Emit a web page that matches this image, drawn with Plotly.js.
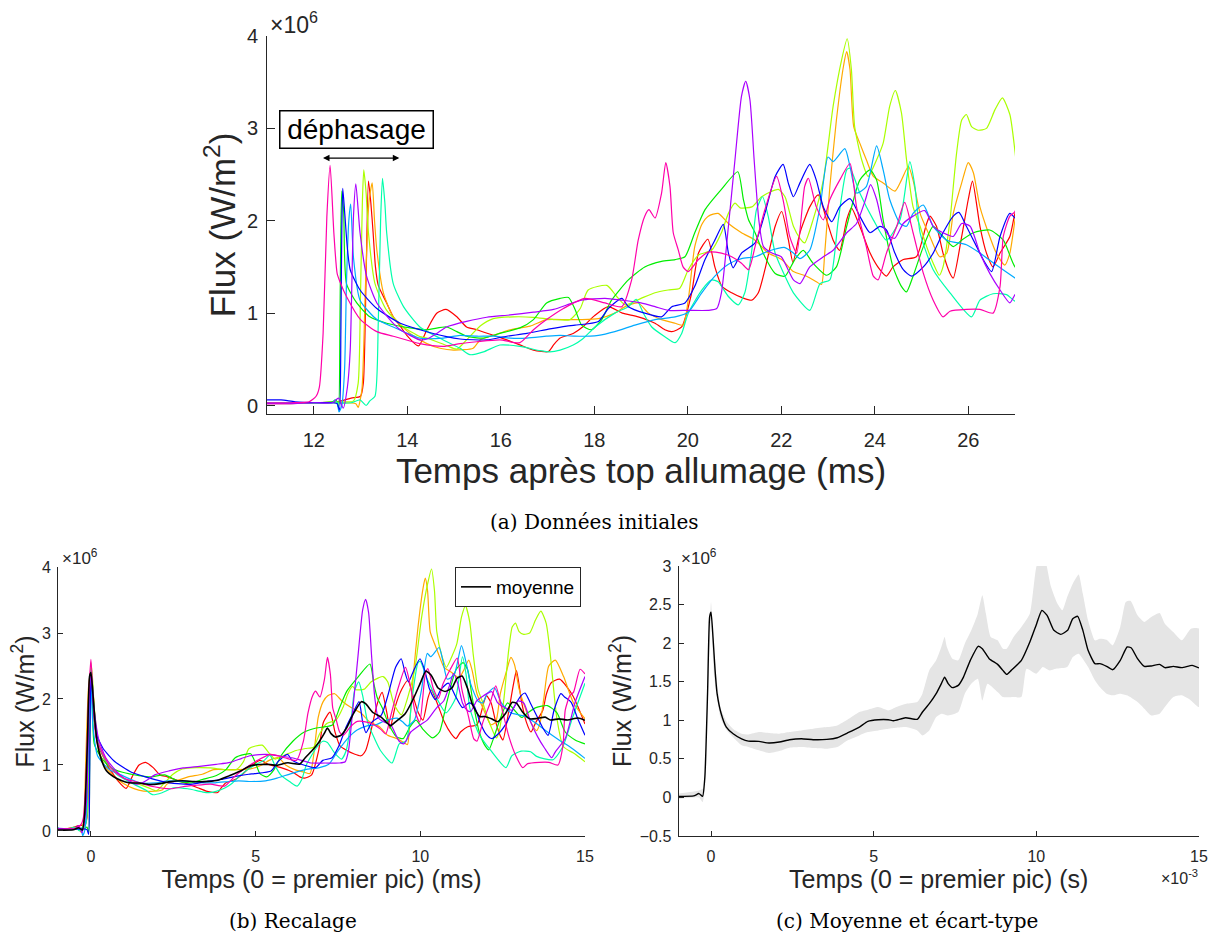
<!DOCTYPE html>
<html>
<head>
<meta charset="utf-8">
<script src="https://cdn.plot.ly/plotly-3.0.1.min.js"></script>
<style>html,body{margin:0;padding:0;background:#fff;}#chart{width:1216px;height:935px;}</style>
</head>
<body>
<div id="chart"></div>
<script>
// ---------- Data (flux in 10^6 W/m2, time in ms after ignition) ----------
const tRouge = [11.0,11.5,12.0,12.5,12.8,13.0,13.06,13.12,13.17,13.22,13.27,13.32,13.38,13.56,13.7,13.85,13.99,14.24,14.42,14.63,14.83,15.06,15.27,15.49,15.84,16.13,16.41,16.7,17.02,17.13,17.27,17.55,17.75,18.0,18.3,18.6,18.94,19.3,19.51,19.66,19.87,20.08,20.23,20.43,20.58,20.73,20.94,21.15,21.37,21.51,21.65,21.87,22.01,22.15,22.25,22.4,22.61,22.79,22.97,23.11,23.25,23.4,23.5,23.68,23.9,24.11,24.25,24.39,24.61,24.89,25.11,25.18,25.32,25.46,25.61,25.68,25.86,26.0,26.09,26.25,26.39,26.53,26.68,26.89,27.0,27.15,27.4,27.8,28.17];
const fRouge = [0.02,0.02,0.03,0.04,0.08,0.1,0.24,1.4,2.43,2.2,1.87,1.5,1.3,1.11,0.96,0.86,0.76,0.645,0.82,0.999,1.04,0.96,0.85,0.82,0.76,0.71,0.656,0.60,0.584,0.656,0.73,0.78,0.85,0.97,1.07,1.0,0.96,0.89,0.82,0.80,0.85,1.21,1.65,1.80,1.50,1.29,1.22,1.17,1.14,1.22,1.47,1.94,2.10,1.8,1.55,1.87,2.15,2.28,2.01,1.79,1.68,2.01,2.14,1.94,1.65,1.47,1.40,1.50,1.58,1.61,1.97,2.05,1.94,1.65,1.43,1.38,1.83,2.23,2.43,1.94,1.65,1.50,1.65,1.83,2.08,2.25,2.3,2.05,1.62];

const tOrange = [11.0,11.5,12.0,12.5,12.9,12.95,13.03,13.1,13.18,13.25,13.3,13.35,13.49,13.7,14.06,14.42,14.7,14.99,15.41,15.56,15.84,16.2,16.63,16.98,17.41,17.7,18.09,18.44,18.66,18.94,19.16,19.44,19.73,19.9,20.01,20.15,20.3,20.44,20.65,20.87,21.15,21.44,21.72,22.01,22.26,22.54,22.75,22.86,22.93,23.04,23.18,23.33,23.4,23.47,23.55,23.68,23.82,23.97,24.18,24.43,24.57,24.72,24.82,24.97,25.18,25.39,25.54,25.68,25.86,26.0,26.11,26.25,26.43,26.6,26.78,26.89,27.0,27.15,27.35,27.6,27.9,28.25];
const fOrange = [0.03,0.03,0.03,0.03,0.02,-0.02,0.17,1.2,2.2,2.41,2.0,1.68,1.22,0.96,0.78,0.67,0.62,0.60,0.62,0.71,0.76,0.82,0.86,0.93,0.93,0.93,0.94,1.0,1.07,1.11,1.0,0.93,0.89,0.87,1.14,1.72,1.96,2.05,2.08,1.97,1.87,1.79,1.65,1.58,1.45,1.40,1.34,1.31,1.65,2.37,3.09,3.67,3.83,3.64,3.02,2.84,2.66,2.48,2.41,2.32,2.44,2.59,2.44,2.08,1.83,1.61,1.65,2.08,2.41,2.63,2.52,2.15,1.87,1.65,1.52,1.65,2.01,2.5,2.59,2.34,1.94,1.7];

const tJauneVert = [11.0,11.5,12.0,12.5,12.85,12.95,13.0,13.04,13.07,13.12,13.17,13.31,13.56,13.92,14.27,14.42,14.84,15.06,15.27,15.56,15.84,16.27,16.7,17.13,17.48,17.7,17.87,18.27,18.48,18.66,19.0,19.3,19.58,19.83,20.01,20.23,20.51,20.72,20.87,21.01,21.12,21.37,21.58,21.8,21.94,22.08,22.26,22.4,22.5,22.68,22.9,23.11,23.29,23.41,23.5,23.57,23.72,23.86,24.04,24.18,24.32,24.44,24.57,24.68,24.82,24.97,25.11,25.25,25.38,25.46,25.61,25.75,25.86,25.96,26.07,26.21,26.39,26.57,26.73,26.89,27.0,27.21,27.41,27.72,28.07];
const fJauneVert = [0.03,0.03,0.03,0.04,0.05,0.24,1.2,2.2,2.55,2.3,1.87,1.32,1.03,0.85,0.745,0.73,0.65,0.61,0.71,0.86,0.94,0.96,0.955,0.93,0.93,1.05,1.25,1.30,1.18,1.09,1.16,1.22,1.25,1.27,1.47,1.63,1.68,1.87,2.08,2.19,2.14,2.15,2.26,2.32,2.34,2.26,1.94,1.81,1.76,2.01,2.44,3.24,3.74,3.97,3.64,3.02,2.66,2.48,2.66,2.84,3.24,3.41,3.17,2.66,2.15,1.94,1.72,1.54,1.41,1.50,2.01,2.73,3.09,3.15,3.02,2.98,3.0,3.2,3.33,3.15,2.75,1.73,1.28,1.18,1.05];

const tVert = [11.0,11.5,12.0,12.4,12.48,12.53,12.56,12.58,12.6,12.64,12.7,12.92,13.2,13.56,14.06,14.42,14.84,15.06,15.27,15.63,15.98,16.41,16.7,16.98,17.27,17.45,17.59,17.73,17.94,18.16,18.37,18.73,19.08,19.44,19.73,19.94,20.15,20.37,20.72,21.07,21.19,21.3,21.44,21.65,21.87,22.08,22.29,22.47,22.68,22.97,23.18,23.4,23.68,23.9,24.04,24.18,24.39,24.57,24.68,24.82,25.04,25.25,25.46,25.68,25.86,26.11,26.46,26.75,27.0,27.3,27.6];
const fVert = [0.03,0.03,0.03,0.04,0.06,-0.02,0.9,1.9,2.32,2.1,1.32,1.11,0.96,0.89,0.84,0.82,0.85,0.80,0.75,0.73,0.78,0.84,0.93,1.11,1.16,1.17,1.04,0.87,0.82,0.93,1.14,1.36,1.50,1.56,1.58,1.61,1.87,2.12,2.34,2.53,2.23,2.01,1.87,1.61,1.43,1.40,1.58,1.68,1.54,1.41,1.50,1.94,2.44,2.55,2.44,2.01,1.50,1.29,1.23,1.40,1.72,1.94,1.83,1.72,1.79,1.87,1.90,1.79,1.50,1.38,1.32];

const tTurquoise = [11.0,11.5,12.0,12.4,12.45,12.5,12.8,12.99,13.12,13.2,13.31,13.38,13.43,13.47,13.52,13.56,13.7,13.92,14.27,14.77,15.13,15.34,15.63,15.98,16.41,16.84,17.05,17.27,17.55,17.75,18.02,18.44,18.73,18.9,19.05,19.23,19.51,19.73,19.87,20.01,20.3,20.51,20.65,20.87,21.08,21.22,21.37,21.47,21.6,21.72,21.87,22.08,22.26,22.61,22.83,23.04,23.22,23.4,23.47,23.68,23.97,24.25,24.54,24.75,24.86,24.97,25.25,25.61,26.07,26.25,26.53,26.82,27.0,27.5,27.8,28.1,28.47];
const fTurquoise = [0.03,0.03,0.03,0.03,0.06,0.03,0.03,0.06,0.0,0.05,0.1,0.9,2.0,2.46,2.2,1.87,1.32,1.07,0.85,0.71,0.62,0.55,0.58,0.655,0.64,0.594,0.58,0.60,0.655,0.72,0.85,1.0,1.07,1.15,1.0,0.85,0.745,0.68,0.78,1.0,1.25,1.36,1.34,1.18,1.09,1.22,1.68,2.12,2.26,2.05,1.65,1.40,1.22,1.03,1.32,1.36,2.01,2.55,2.57,2.30,2.01,1.79,2.01,2.64,2.37,1.87,1.47,1.22,0.96,1.14,1.21,1.20,1.13,1.08,1.28,1.73,2.24];

const tAzur = [11.0,11.5,12.0,12.4,12.5,12.54,12.6,12.66,12.7,12.75,12.79,12.85,12.99,13.35,13.7,14.27,14.77,15.13,15.49,15.84,16.2,16.56,16.98,17.27,17.59,18.09,18.44,18.87,19.3,19.73,20.01,20.3,20.58,20.87,21.15,21.44,21.72,22.08,22.26,22.4,22.61,22.83,23.0,23.11,23.36,23.47,23.61,23.82,24.04,24.18,24.32,24.54,24.68,24.82,25.04,25.25,25.54,25.96,26.25,26.6,27.0,27.4,27.79];
const fAzur = [0.03,0.03,0.03,0.03,0.02,-0.07,0.0,0.4,1.33,2.0,2.18,1.6,1.14,0.93,0.85,0.73,0.73,0.76,0.75,0.75,0.73,0.73,0.75,0.76,0.75,0.76,0.80,0.87,0.93,0.96,1.01,1.22,1.40,1.53,1.59,1.61,1.67,1.71,1.65,1.59,1.68,2.15,2.69,2.64,2.78,2.59,2.30,2.37,2.81,2.55,2.23,1.97,1.94,2.08,2.17,1.94,1.79,1.74,1.65,1.52,1.38,1.25,1.1];

const tBleu = [11.0,11.3,11.6,12.0,12.4,12.5,12.55,12.58,12.6,12.62,12.66,12.72,12.78,12.99,13.35,13.85,14.27,14.84,15.13,15.7,16.13,16.56,17.05,17.41,17.59,18.09,18.3,18.59,18.73,19.08,19.44,19.66,19.94,20.15,20.37,20.58,20.76,20.87,20.97,21.15,21.44,21.65,21.87,22.04,22.15,22.26,22.4,22.61,22.75,22.9,23.08,23.25,23.47,23.68,23.9,24.11,24.25,24.43,24.61,24.79,25.04,25.25,25.46,25.68,25.8,25.96,26.18,26.32,26.5,26.68,26.89,27.0,27.2,27.4,27.62];
const fBleu = [0.06,0.06,0.04,0.03,0.03,0.02,-0.05,0.8,1.9,2.35,2.1,1.7,1.47,1.25,1.05,0.89,0.82,0.745,0.72,0.71,0.75,0.78,0.83,0.86,0.87,0.91,1.05,1.16,1.07,1.00,0.96,1.07,1.11,1.29,1.58,1.79,1.96,1.65,1.49,1.65,1.76,2.08,2.48,2.61,2.41,2.26,2.41,2.61,2.44,2.15,1.99,2.15,2.24,2.05,1.87,1.94,1.90,1.65,1.47,1.40,1.50,1.65,1.87,2.05,2.09,1.94,1.72,1.58,1.45,1.83,2.08,2.03,1.95,1.7,1.45];

const tViolet = [11.0,11.5,12.0,12.4,12.53,12.63,12.72,12.78,12.85,12.9,12.99,13.13,13.35,13.7,13.85,14.27,14.42,14.63,14.84,15.27,15.7,16.2,16.7,17.13,17.48,17.73,18.23,18.59,19.0,19.3,19.58,20.01,20.44,20.62,20.72,20.87,21.01,21.15,21.24,21.33,21.42,21.52,21.62,21.8,22.0,22.26,22.4,22.61,22.9,23.11,23.4,23.61,23.79,23.91,24.04,24.18,24.32,24.43,24.61,24.82,25.07,25.25,25.46,25.68,25.86,26.04,26.25,26.46,26.68,26.89,27.0,27.3,27.6,27.9];
const fViolet = [0.02,0.02,0.03,0.03,0.08,-0.03,0.2,0.6,2.05,2.40,1.87,1.40,1.11,0.89,0.82,0.71,0.72,0.78,0.85,0.91,0.955,0.98,1.01,1.04,1.10,1.14,1.16,1.14,1.11,1.07,1.03,1.03,1.03,1.05,1.22,1.94,2.66,3.35,3.51,3.31,2.66,2.01,1.72,1.65,1.61,1.36,1.32,1.50,1.61,1.68,1.87,1.97,2.21,2.39,2.23,1.94,1.83,1.81,1.97,2.05,2.11,1.94,1.87,1.83,1.97,1.94,1.65,1.43,1.25,1.11,1.20,1.4,1.95,2.34];

const tRose = [11.0,11.5,11.9,12.05,12.12,12.2,12.28,12.35,12.43,12.5,12.56,12.7,13.0,13.35,13.7,14.27,14.77,15.13,15.49,15.98,16.41,16.7,16.98,17.34,17.8,18.23,18.59,18.8,18.94,19.08,19.17,19.3,19.44,19.53,19.62,19.69,19.8,19.9,20.01,20.23,20.44,20.72,20.94,21.15,21.3,21.44,21.65,21.9,22.05,22.18,22.33,22.5,22.58,22.75,22.9,23.04,23.25,23.47,23.61,23.82,23.97,24.07,24.25,24.47,24.64,24.82,25.04,25.25,25.46,25.61,25.96,26.25,26.53,26.68,26.75,26.89,27.0,27.2,27.35];
const fRose = [0.03,0.03,0.04,0.1,0.2,0.78,2.04,2.6,1.87,1.43,1.34,1.18,0.93,0.80,0.75,0.67,0.64,0.67,0.69,0.71,0.68,0.82,0.93,1.05,1.16,1.11,1.07,1.36,1.79,2.05,2.12,2.03,2.30,2.63,2.37,1.87,1.68,1.50,1.45,1.58,1.66,1.65,1.61,1.54,1.47,1.72,2.12,2.48,2.2,1.83,1.65,2.37,2.46,2.15,2.01,2.23,2.44,2.62,2.15,1.72,1.40,1.36,1.65,1.94,2.20,1.87,1.43,1.14,0.96,1.02,1.04,1.04,1.00,1.29,1.83,2.05,2.10,2.45,2.38];

// time of the first peak of each test (ms), used for the "recalage"
const pics = [13.17, 13.25, 13.07, 12.6, 13.47, 12.79, 12.62, 12.9, 12.35];
const couleurs = ['#ff0000','#ffaa00','#aaff00','#00ee00','#00ffaa','#00aaff','#0000ff','#aa00ff','#ff00aa'];

// mean and standard deviation band (time in ms relative to the first peak)
const tMoy = [-1.0,-0.53,-0.37,-0.26,-0.19,-0.107,-0.043,0,0.06,0.124,0.187,0.313,0.47,0.68,0.94,1.15,1.47,1.78,2.1,2.41,2.78,3.14,3.56,3.88,4.19,4.56,4.82,5.14,5.45,5.61,5.98,6.34,6.5,6.71,6.92,7.08,7.18,7.29,7.42,7.6,7.76,7.97,8.21,8.34,8.55,8.81,8.97,9.09,9.23,9.54,9.8,10.01,10.17,10.33,10.54,10.75,10.96,11.12,11.27,11.43,11.59,11.8,11.95,12.16,12.35,12.58,12.79,12.92,13.11,13.32,13.53,13.79,13.95,14.21,14.47,14.79,15.0];
const fMoy = [0.013,0.02,0.05,0.013,0.26,1.345,2.34,2.40,2.08,1.65,1.345,1.085,0.912,0.826,0.76,0.73,0.726,0.705,0.718,0.748,0.761,0.748,0.752,0.774,0.835,0.912,0.986,1.007,1.007,0.994,1.033,1.012,1.107,1.215,1.345,1.475,1.56,1.475,1.423,1.453,1.56,1.777,1.959,1.928,1.799,1.725,1.647,1.595,1.647,1.777,2.015,2.253,2.425,2.36,2.166,2.114,2.166,2.317,2.348,2.166,1.907,1.734,1.734,1.699,1.656,1.777,1.95,1.937,1.799,1.699,1.704,1.725,1.682,1.699,1.682,1.712,1.678];

const tHaut = [-1.0,-0.37,-0.21,-0.1,0,0.1,0.3,0.5,0.7,0.94,1.15,1.47,1.78,2.1,2.41,2.78,3.14,3.56,3.88,4.19,4.56,4.82,5.14,5.45,5.7,6.0,6.34,6.5,6.71,6.92,7.08,7.18,7.25,7.42,7.6,7.8,8.0,8.2,8.34,8.45,8.6,8.81,8.97,9.09,9.3,9.54,9.8,10.0,10.2,10.45,10.65,10.8,10.95,11.12,11.3,11.43,11.59,11.8,11.95,12.16,12.35,12.58,12.75,12.9,13.11,13.32,13.53,13.79,13.95,14.21,14.47,14.75,15.0];
const fHaut = [0.05,0.09,0.13,1.45,2.53,1.85,1.15,0.97,0.88,0.826,0.817,0.847,0.835,0.826,0.847,0.869,0.891,0.912,0.934,1.007,1.107,1.137,1.172,1.128,1.172,1.215,1.237,1.345,1.647,1.777,1.95,2.08,1.95,1.799,1.777,1.993,2.166,2.382,2.62,2.382,2.08,2.036,1.928,1.928,2.08,2.21,2.382,2.99,3.2,2.73,2.51,2.425,2.6,2.77,2.89,2.64,2.296,2.036,2.058,2.045,1.972,2.21,2.534,2.547,2.36,2.274,2.339,2.391,2.253,2.145,2.036,2.188,2.188];

const tBas = [-1.0,-0.37,-0.26,-0.19,-0.1,0,0.1,0.3,0.5,0.7,0.94,1.15,1.47,1.78,2.1,2.41,2.78,3.14,3.56,3.88,4.19,4.56,4.82,5.14,5.45,5.7,6.0,6.34,6.5,6.71,6.92,7.08,7.29,7.6,7.8,8.0,8.2,8.34,8.5,8.81,8.97,9.3,9.54,9.7,10.0,10.2,10.4,10.6,10.95,11.12,11.3,11.59,11.8,11.95,12.16,12.35,12.58,12.79,13.11,13.32,13.53,13.79,13.95,14.21,14.47,14.75,15.0];
const fBas = [-0.02,0.0,-0.06,0.1,1.2,2.3,1.55,1.02,0.86,0.77,0.675,0.653,0.61,0.575,0.601,0.644,0.653,0.64,0.631,0.653,0.739,0.804,0.847,0.869,0.891,0.904,0.912,0.869,0.804,0.869,1.042,1.085,1.063,1.107,1.345,1.475,1.539,1.258,1.475,1.366,1.301,1.301,1.301,1.669,1.604,1.691,1.647,1.669,1.691,1.82,1.863,1.691,1.518,1.431,1.345,1.323,1.345,1.323,1.237,1.15,1.063,1.085,1.172,1.301,1.323,1.258,1.172];

const ticksA = [12,14,16,18,20,22,24,26];
const ticksB = [0,5,10,15];
const ticksFlux = [0,1,2,3,4];
const ticksC = [-0.5,0,0.5,1,1.5,2,2.5,3];

// ---------- Build ----------
const W = 1216, H = 935;
const series = [
  [tRouge,fRouge],[tOrange,fOrange],[tJauneVert,fJauneVert],[tVert,fVert],[tTurquoise,fTurquoise],
  [tAzur,fAzur],[tBleu,fBleu],[tViolet,fViolet],[tRose,fRose]
];
const FONT = 'Liberation Sans, Arial, Helvetica, sans-serif';
const SERIF = 'DejaVu Serif, Liberation Serif, serif';
const AX = '#262626';
const traces = [];
const lineStyle = c => ({color: c, width: 1.2, shape: 'spline', smoothing: 0.6});

// (a) raw data
series.forEach((s, i) => {
  traces.push({x: s[0], y: s[1], type: 'scatter', mode: 'lines', line: lineStyle(couleurs[i]),
    xaxis: 'x', yaxis: 'y', showlegend: false, name: 'essai ' + (i + 1)});
});
// (b) realigned on first peak
series.forEach((s, i) => {
  traces.push({x: s[0].map(v => v - pics[i]), y: s[1], type: 'scatter', mode: 'lines', line: lineStyle(couleurs[i]),
    xaxis: 'x2', yaxis: 'y2', showlegend: false, name: 'essai ' + (i + 1)});
});
traces.push({x: tMoy, y: fMoy, type: 'scatter', mode: 'lines', name: 'moyenne',
  line: {color: '#000000', width: 1.6, shape: 'spline', smoothing: 0.5}, xaxis: 'x2', yaxis: 'y2', showlegend: true});
// (c) mean and std band (seconds)
traces.push({x: tHaut.map(v => v / 1000).concat(tBas.map(v => v / 1000).reverse()),
  y: fHaut.concat(fBas.slice().reverse()), type: 'scatter', mode: 'lines', fill: 'toself',
  fillcolor: '#e5e5e5', line: {width: 0, color: 'rgba(0,0,0,0)', shape: 'spline', smoothing: 0.5}, xaxis: 'x3', yaxis: 'y3',
  showlegend: false, name: 'écart-type'});
traces.push({x: tMoy.map(v => v / 1000), y: fMoy, type: 'scatter', mode: 'lines', name: 'moyenne',
  line: {color: '#000000', width: 1.4, shape: 'spline', smoothing: 0.5}, xaxis: 'x3', yaxis: 'y3', showlegend: false});

function axis(o) {
  return Object.assign({
    ticks: 'inside', tickcolor: AX, tickwidth: 1, showline: true, linecolor: AX, linewidth: 1,
    showgrid: false, zeroline: false, mirror: false, fixedrange: true,
    tickfont: {family: FONT, color: AX}
  }, o);
}
const px = v => v / W, py = v => 1 - v / H;

const layout = {
  width: W, height: H, margin: {l: 0, r: 0, t: 0, b: 0}, paper_bgcolor: '#fff', plot_bgcolor: '#fff',
  font: {family: FONT, color: AX},
  xaxis: axis({domain: [px(267), px(1015)], range: [11, 27], anchor: 'y', tickvals: ticksA, ticklen: 8,
    tickfont: {family: FONT, color: AX, size: 20}, ticklabelstandoff: 8,
    title: {text: 'Temps après top allumage (ms)', font: {family: FONT, size: 35, color: AX}, standoff: 8}}),
  yaxis: axis({domain: [py(414), py(36)], range: [-0.092, 4], anchor: 'x', tickvals: ticksFlux, ticklen: 8,
    tickfont: {family: FONT, color: AX, size: 20}, ticklabelstandoff: 4,
    title: {text: 'Flux (W/m<sup>2</sup>)', font: {family: FONT, size: 35, color: AX}, standoff: 0}}),
  xaxis2: axis({domain: [px(58), px(585)], range: [-1, 15], anchor: 'y2', tickvals: ticksB, ticklen: 5,
    tickfont: {family: FONT, color: AX, size: 16}, ticklabelstandoff: 6,
    title: {text: 'Temps (0 = premier pic) (ms)', font: {family: FONT, size: 25, color: AX}, standoff: 3}}),
  yaxis2: axis({domain: [py(836), py(567)], range: [-0.076, 4], anchor: 'x2', tickvals: ticksFlux, ticklen: 5,
    tickfont: {family: FONT, color: AX, size: 16}, ticklabelstandoff: 3,
    title: {text: 'Flux (W/m<sup>2</sup>)', font: {family: FONT, size: 25, color: AX}, standoff: 0}}),
  xaxis3: axis({domain: [px(678.5), px(1199)], range: [-0.001, 0.015], anchor: 'y3',
    tickvals: ticksB.map(v => v / 1000), ticktext: ticksB.map(String), ticklen: 5,
    tickfont: {family: FONT, color: AX, size: 16}, ticklabelstandoff: 6,
    title: {text: 'Temps (0 = premier pic) (s)', font: {family: FONT, size: 25, color: AX}, standoff: 3}}),
  yaxis3: axis({domain: [py(836), py(566)], range: [-0.5, 3], anchor: 'x3', tickvals: ticksC, ticklen: 5,
    tickfont: {family: FONT, color: AX, size: 16}, ticklabelstandoff: 3,
    title: {text: 'Flux (W/m<sup>2</sup>)', font: {family: FONT, size: 25, color: AX}, standoff: 0}}),
  showlegend: true,
  legend: {x: px(581), y: py(567), xanchor: 'right', yanchor: 'top', bgcolor: '#fff',
    bordercolor: AX, borderwidth: 1, font: {family: FONT, size: 19, color: '#000'}, itemwidth: 30,
    tracegroupgap: 0},
  annotations: [
    {xref: 'x', yref: 'y', x: 12.904, y: 2.985, text: 'déphasage', showarrow: false,
      font: {family: FONT, size: 28, color: '#000'}, bordercolor: '#000', borderwidth: 1.5, borderpad: 1,
      bgcolor: '#fff', width: 150, height: 34},
    {xref: 'x', yref: 'y', axref: 'x', ayref: 'y', x: 13.83, y: 2.678, ax: 12.134, ay: 2.678, text: ' ',
      showarrow: true, arrowhead: 2, startarrowhead: 2, arrowside: 'end+start', arrowsize: 1, arrowwidth: 1.3,
      arrowcolor: '#000'},
    {xref: 'paper', yref: 'paper', x: px(268), y: py(23), xanchor: 'left', yanchor: 'middle',
      text: '×10<sup>6</sup>', showarrow: false, font: {family: FONT, size: 23, color: AX}},
    {xref: 'paper', yref: 'paper', x: px(60), y: py(557), xanchor: 'left', yanchor: 'middle',
      text: '×10<sup>6</sup>', showarrow: false, font: {family: FONT, size: 17, color: AX}},
    {xref: 'paper', yref: 'paper', x: px(679), y: py(557), xanchor: 'left', yanchor: 'middle',
      text: '×10<sup>6</sup>', showarrow: false, font: {family: FONT, size: 17, color: AX}},
    {xref: 'paper', yref: 'paper', x: px(1200), y: py(877), xanchor: 'right', yanchor: 'middle',
      text: '×10<sup>-3</sup>', showarrow: false, font: {family: FONT, size: 16, color: AX}},
    {xref: 'paper', yref: 'paper', x: px(594), y: py(522), xanchor: 'center', yanchor: 'middle',
      text: '(a) Données initiales', showarrow: false, font: {family: SERIF, size: 20, color: '#000'}},
    {xref: 'paper', yref: 'paper', x: px(293), y: py(921), xanchor: 'center', yanchor: 'middle',
      text: '(b) Recalage', showarrow: false, font: {family: SERIF, size: 20, color: '#000'}},
    {xref: 'paper', yref: 'paper', x: px(907), y: py(921), xanchor: 'center', yanchor: 'middle',
      text: '(c) Moyenne et écart-type', showarrow: false, font: {family: SERIF, size: 20, color: '#000'}}
  ]
};

Plotly.newPlot('chart', traces, layout, {staticPlot: true, displayModeBar: false});
</script>
</body>
</html>
